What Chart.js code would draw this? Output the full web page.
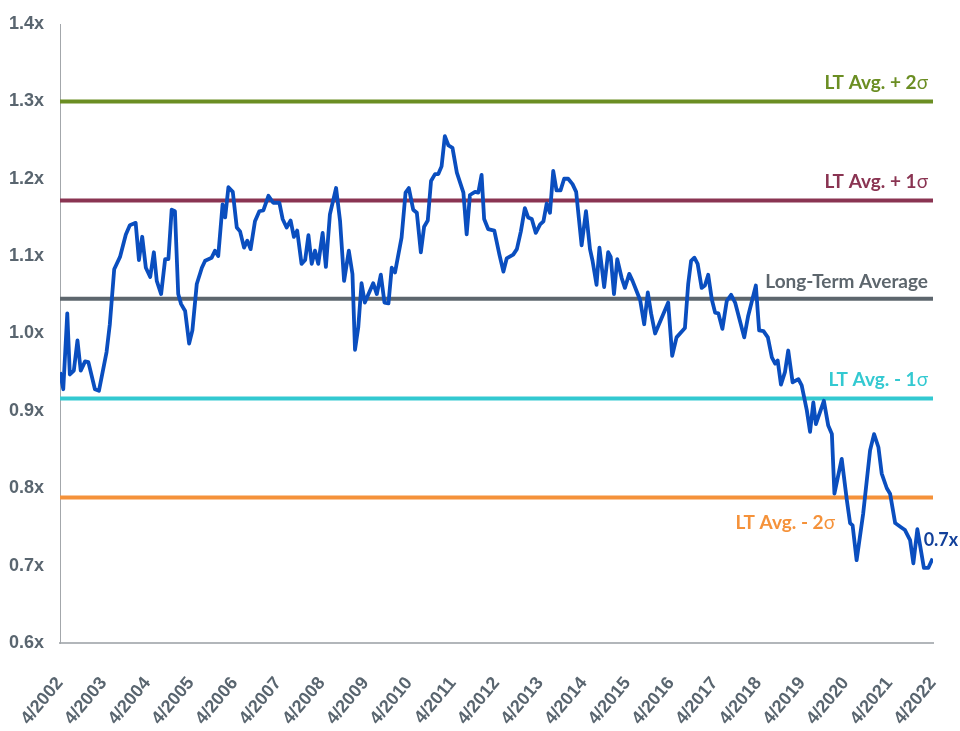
<!DOCTYPE html>
<html>
<head>
<meta charset="utf-8">
<script src="https://cdn.jsdelivr.net/npm/chart.js@4.4.1/dist/chart.umd.min.js"></script>
<style>
  html, body { margin: 0; padding: 0; background: #fff; }
  #wrap { width: 960px; height: 731px; }
</style>
</head>
<body>
<div id="wrap"><canvas id="chart" width="960" height="731"></canvas></div>
<script>
// months since 4/2002
const monthIndex = [
  0, 0.9, 2.0, 2.7, 3.8, 4.8, 5.7, 6.9, 7.8, 9.6, 10.7, 12.8, 13.7, 14.9, 16.5, 18.1, 19.2, 20.8, 21.7, 22.6,
  23.6, 24.8, 25.8, 26.6, 27.8, 28.9, 29.8, 30.7, 31.6, 32.5, 33.3, 34.4, 35.5, 36.4, 37.6, 39.0, 39.9,
  41.7, 42.6, 43.5, 44.7, 45.4, 46.3, 47.5, 48.6, 49.5, 50.6, 51.5, 52.4, 53.6, 54.8, 55.9, 57.3, 58.6, 60.3, 61.2, 62.3,
  63.4, 64.3, 65.2, 66.4, 67.4, 68.3, 69.2, 70.1, 71.0, 72.2, 73.1, 74.2, 75.9, 77.0, 78.1, 79.4,
  80.4, 81.1, 82.0, 82.9, 83.8, 86.1, 87.1, 88.2, 89.2, 90.3, 91.2, 92.1, 93.9, 95.0, 95.9, 97.1, 98.1, 99.2, 100.1, 101.1,
  102.0, 103.1, 104.0, 104.9, 105.8, 106.8, 107.9, 109.1, 110.9, 111.8, 112.7, 114.1, 115.0, 115.9, 116.6, 117.7, 119.4,
  120.8, 121.9, 122.8, 124.6, 125.6, 126.7, 127.8, 128.7, 129.7, 130.8, 132.0, 132.9, 133.8, 134.7, 135.6, 136.5, 137.6, 138.6, 139.7, 140.9,
  141.9, 143.4, 144.6, 145.7, 146.4, 147.5, 148.3, 149.6, 150.7, 151.4, 152.3, 153.2, 154.4, 155.3, 156.5, 157.4, 158.5,
  159.5, 160.6, 161.6, 162.5, 163.6, 167.2, 168.3, 169.5, 171.8, 172.7, 173.5, 174.4, 175.3, 176.4, 177.3, 178.2, 179.2, 180.1, 181.0, 182.1,
  183.3, 184.5, 185.6, 188.1, 189.2, 191.3, 192.2, 193.4, 194.6, 195.7, 196.6, 197.3, 198.2, 199.3,
  200.2, 201.4, 203.0, 203.9, 205.3, 206.2, 207.1, 207.8, 210.0, 211.2, 212.2, 212.9, 214.9, 216.3, 217.2, 217.9, 219.0, 220.8, 222.7, 223.8,
  225.0, 225.9, 227.3, 228.2, 229.6, 231.1, 232.3, 233.7, 234.6, 235.7, 236.6, 237.5, 238.7, 239.9
];

// valuation multiple (x)
const multiple = [
  0.950, 0.928, 1.026, 0.947, 0.952, 0.991, 0.952, 0.964, 0.963, 0.928, 0.926, 0.976, 1.012, 1.083, 1.099, 1.128, 1.140, 1.143, 1.095, 1.125,
  1.085, 1.073, 1.105, 1.068, 1.051, 1.096, 1.096, 1.160, 1.158, 1.051, 1.038, 1.029, 0.987, 1.004, 1.064, 1.085, 1.094,
  1.098, 1.107, 1.100, 1.167, 1.150, 1.189, 1.183, 1.137, 1.132, 1.111, 1.120, 1.109, 1.145, 1.158, 1.159, 1.178, 1.169, 1.169, 1.148, 1.137,
  1.146, 1.125, 1.133, 1.090, 1.095, 1.127, 1.090, 1.107, 1.090, 1.130, 1.086, 1.154, 1.188, 1.145, 1.068, 1.107,
  1.077, 0.979, 1.008, 1.065, 1.040, 1.065, 1.051, 1.076, 1.040, 1.039, 1.085, 1.079, 1.124, 1.182, 1.188, 1.160, 1.156, 1.105, 1.138, 1.146,
  1.197, 1.206, 1.206, 1.216, 1.255, 1.243, 1.240, 1.208, 1.182, 1.128, 1.179, 1.183, 1.182, 1.205, 1.148, 1.135, 1.133,
  1.102, 1.080, 1.097, 1.102, 1.109, 1.132, 1.162, 1.150, 1.148, 1.130, 1.141, 1.145, 1.168, 1.156, 1.210, 1.185, 1.185, 1.200, 1.200, 1.193,
  1.183, 1.114, 1.158, 1.109, 1.094, 1.063, 1.111, 1.060, 1.105, 1.099, 1.051, 1.096, 1.072, 1.059, 1.077, 1.068, 1.055,
  1.043, 1.012, 1.053, 1.026, 1.000, 1.040, 0.971, 0.995, 1.007, 1.064, 1.094, 1.098, 1.090, 1.059, 1.062, 1.076, 1.044, 1.027, 1.026, 1.006,
  1.042, 1.050, 1.040, 0.995, 1.023, 1.062, 1.004, 1.003, 0.995, 0.969, 0.961, 0.965, 0.934, 0.950,
  0.978, 0.937, 0.941, 0.933, 0.901, 0.873, 0.911, 0.883, 0.913, 0.881, 0.870, 0.793, 0.838, 0.785, 0.755, 0.752, 0.707, 0.767, 0.849, 0.870,
  0.853, 0.819, 0.800, 0.793, 0.755, 0.750, 0.746, 0.733, 0.703, 0.747, 0.722, 0.697, 0.697, 0.709
];

const yearLabels = ['4/2002', '4/2003', '4/2004', '4/2005', '4/2006', '4/2007', '4/2008', '4/2009', '4/2010', '4/2011',
  '4/2012', '4/2013', '4/2014', '4/2015', '4/2016', '4/2017', '4/2018', '4/2019', '4/2020', '4/2021', '4/2022'];

const bandNames = ['LT Avg. + 2', 'LT Avg. + 1', 'Long-Term Average', 'LT Avg. - 1', 'LT Avg. - 2'];
const bandSigma = [true, true, false, true, true];
const bandValues = [1.300, 1.172, 1.045, 0.916, 0.788];
const bandColors = ['#6b8e23', '#8a3452', '#5d666d', '#33c9d1', '#f5923a'];

const lineColor = '#0a4ebf';
const tickColor = '#59656f';
const lastLabel = '0.7x';

let datasets = [{
  data: monthIndex.map((m, i) => ({ x: m, y: multiple [i] })),
  borderColor: lineColor,
  borderWidth: 3.8,
  pointRadius: 0,
  tension: 0,
  borderJoinStyle: 'round'
}];
for (let n = 0; n < bandValues.length; n++)
{
  datasets.push ({
    data: [{ x: 0, y: bandValues [n] }, { x: 240, y: bandValues [n] }],
    borderColor: bandColors [n],
    borderWidth: 4,
    pointRadius: 0
  });
}

// text labels for the bands and the last value
const labelPlugin = {
  id: 'bandLabels',
  afterDatasetsDraw (chart)
  {
    const ctx = chart.ctx, area = chart.chartArea;
    const ys = chart.scales.y, xs = chart.scales.x;
    ctx.save ();
    ctx.textBaseline = 'middle';
    for (let n = 0; n < bandValues.length; n++)
    {
      let y = ys.getPixelForValue (bandValues [n]);
      let right = area.right - 5;
      if (n == 4) { y += 25; right = area.right - 98; }
      else if (n == 2) { y -= 17; }
      else { y -= 19; }
      ctx.fillStyle = bandColors [n];
      let sw = 0;
      if (bandSigma [n])
      {
        ctx.font = '19px Lato';
        sw = ctx.measureText ('σ').width;
        ctx.textAlign = 'right';
        ctx.fillText ('σ', right, y);
      }
      ctx.font = 'bold 19px Lato';
      ctx.textAlign = 'right';
      ctx.fillText (bandNames [n], right - sw, y);
    }
    // last value
    let lx = xs.getPixelForValue (monthIndex [monthIndex.length - 1]);
    let ly = ys.getPixelForValue (multiple [multiple.length - 1]);
    ctx.font = 'bold 18px Lato';
    ctx.fillStyle = '#12409a';
    ctx.textAlign = 'left';
    ctx.fillText (lastLabel, lx - 9, ly - 18);
    ctx.restore ();
  }
};

new Chart (document.getElementById ('chart'), {
  type: 'line',
  data: { datasets: datasets },
  options: {
    responsive: false,
    animation: false,
    layout: { padding: { left: 0, right: 27, top: 24, bottom: 0 } },
    plugins: { legend: { display: false }, tooltip: { enabled: false } },
    scales: {
      x: {
        type: 'linear',
        min: 0,
        max: 240,
        grid: { display: false, drawTicks: true, tickLength: 24 },
        border: { display: true, color: '#b2b6ba', width: 2 },
        afterFit: (s) => { s.height = 88; },
        ticks: {
          stepSize: 12,
          autoSkip: false,
          maxRotation: 50,
          minRotation: 50,
          padding: 6,
          color: tickColor,
          font: { family: 'Liberation Sans', size: 18, weight: 'bold' },
          callback: (v) => yearLabels [Math.round (v / 12)]
        }
      },
      y: {
        min: 0.6,
        max: 1.4,
        grid: { display: false, drawTicks: true, tickLength: 16 },
        border: { display: true, color: '#a3a7ab', width: 1 },
        afterFit: (s) => { s.width = 60; },
        ticks: {
          stepSize: 0.1,
          padding: 0,
          color: tickColor,
          font: { family: 'Liberation Sans', size: 18, weight: 'bold' },
          callback: (v) => Number (v).toFixed (1) + 'x'
        }
      }
    }
  },
  plugins: [labelPlugin]
});
</script>
</body>
</html>
